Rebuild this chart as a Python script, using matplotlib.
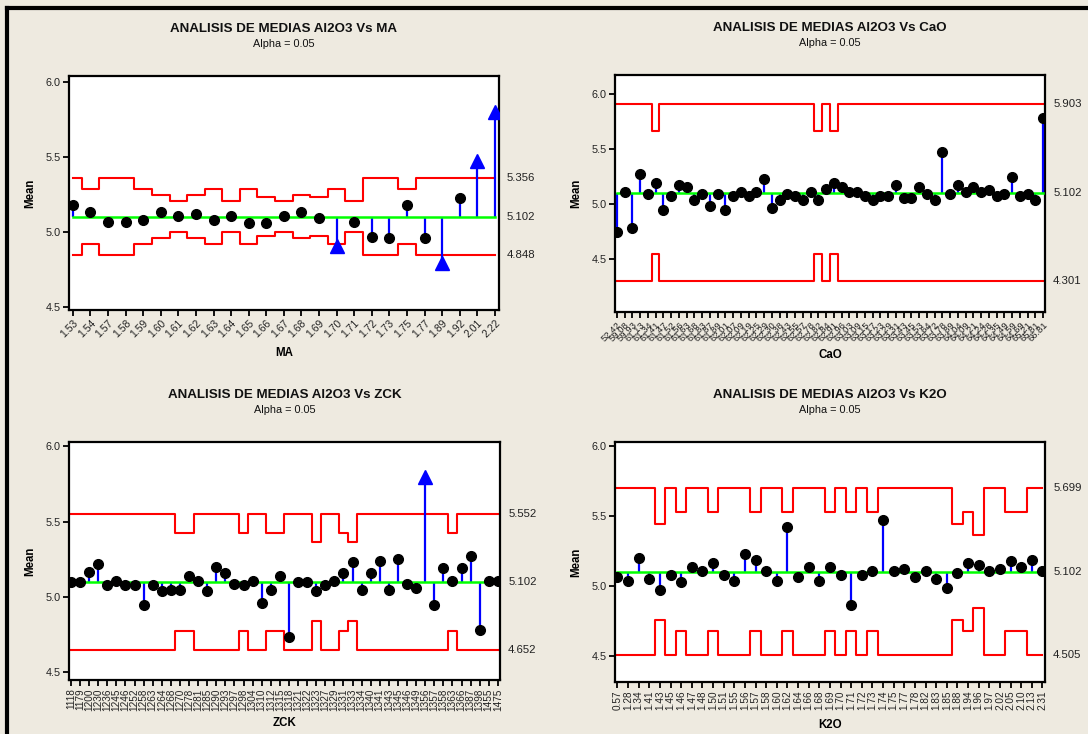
import matplotlib
matplotlib.use('Agg')
import matplotlib.pyplot as plt
import matplotlib.transforms as mtransforms
from matplotlib.lines import Line2D

plt.rcParams['font.family'] = ['Liberation Sans', 'DejaVu Sans']

center = 5.102

# MA
ma_labels = ['1.53', '1.54', '1.57', '1.58', '1.59', '1.60', '1.61', '1.62', '1.63', '1.64',
             '1.65', '1.66', '1.67', '1.68', '1.69', '1.70', '1.71', '1.72', '1.73', '1.75',
             '1.77', '1.89', '1.92', '2.01', '2.22']
ma_means = [5.181, 5.130, 5.068, 5.068, 5.081, 5.130, 5.106, 5.117, 5.081, 5.106,
            5.057, 5.057, 5.106, 5.130, 5.095, 4.905, 5.068, 4.968, 4.957, 5.181,
            4.957, 4.790, 5.224, 5.470, 5.800]
ma_ucl = [5.356, 5.283, 5.356, 5.356, 5.283, 5.245, 5.205, 5.245, 5.283, 5.205,
          5.283, 5.232, 5.205, 5.245, 5.232, 5.283, 5.205, 5.356, 5.356, 5.283,
          5.356, 5.356, 5.356, 5.356, 5.356]

# CaO
cao_labels = ['52.42', '59.08', '59.93', '61.13', '61.34', '61.41', '61.47', '61.52', '61.56', '61.63',
              '61.68', '61.83', '61.87', '61.89', '62.01', '62.07', '62.09', '62.19', '62.25', '62.29',
              '62.30', '62.38', '62.43', '62.55', '62.57', '62.78', '62.82', '62.84', '62.91', '62.96',
              '63.03', '63.09', '63.15', '63.17', '63.23', '63.29', '63.31', '63.43', '63.45', '63.53',
              '63.64', '63.72', '63.78', '63.89', '64.04', '64.09', '64.21', '64.24', '64.28', '64.35',
              '64.49', '64.59', '64.69', '65.21', '65.81', '66.81']
cao_means = [4.742, 5.106, 4.779, 5.276, 5.088, 5.194, 4.948, 5.070, 5.176, 5.158,
             5.036, 5.088, 4.985, 5.088, 4.948, 5.070, 5.106, 5.070, 5.106, 5.227,
             4.967, 5.036, 5.088, 5.070, 5.036, 5.106, 5.036, 5.139, 5.194, 5.158,
             5.106, 5.106, 5.070, 5.036, 5.070, 5.070, 5.176, 5.055, 5.055, 5.158,
             5.088, 5.036, 5.470, 5.088, 5.176, 5.106, 5.158, 5.106, 5.124, 5.070,
             5.088, 5.245, 5.070, 5.088, 5.036, 5.779]
cao_ucl = [5.903] * 56
cao_ucl[5] = 5.661
cao_ucl[26] = 5.661
cao_ucl[28] = 5.661

# ZCK
zck_labels = ['1118', '1179', '1200', '1230', '1236', '1245', '1246', '1252', '1258', '1263',
              '1264', '1268', '1270', '1278', '1281', '1285', '1290', '1293', '1297', '1298',
              '1304', '1310', '1312', '1315', '1318', '1321', '1322', '1323', '1327', '1329',
              '1331', '1333', '1334', '1340', '1341', '1343', '1345', '1346', '1349', '1356',
              '1357', '1358', '1363', '1366', '1387', '1398', '1455', '1475']
zck_means = [5.10, 5.10, 5.17, 5.22, 5.08, 5.11, 5.08, 5.08, 4.95, 5.08,
             5.04, 5.05, 5.05, 5.14, 5.11, 5.04, 5.20, 5.16, 5.09, 5.08,
             5.11, 4.96, 5.05, 5.14, 4.735, 5.10, 5.10, 5.04, 5.08, 5.11,
             5.16, 5.23, 5.05, 5.16, 5.24, 5.05, 5.25, 5.09, 5.06, 5.80,
             4.95, 5.19, 5.11, 5.19, 5.27, 4.785, 5.11, 5.11]
zck_ucl = [5.552] * 48
for i in [12, 13, 19, 22, 23, 30, 42]:
    zck_ucl[i] = 5.427
for i in [27, 31]:
    zck_ucl[i] = 5.363

# K2O
k2o_labels = ['0.57', '1.28', '1.34', '1.41', '1.43', '1.45', '1.46', '1.47', '1.48', '1.50',
              '1.51', '1.55', '1.56', '1.57', '1.58', '1.60', '1.62', '1.64', '1.66', '1.68',
              '1.69', '1.70', '1.71', '1.72', '1.73', '1.74', '1.75', '1.77', '1.78', '1.82',
              '1.83', '1.85', '1.88', '1.94', '1.96', '1.97', '2.02', '2.05', '2.10', '2.13', '2.31']
k2o_means = [5.062, 5.036, 5.200, 5.050, 4.967, 5.079, 5.024, 5.131, 5.105, 5.160,
             5.079, 5.036, 5.227, 5.186, 5.105, 5.036, 5.418, 5.064, 5.131, 5.036,
             5.131, 5.079, 4.859, 5.079, 5.105, 5.473, 5.105, 5.119, 5.064, 5.105,
             5.050, 4.983, 5.093, 5.160, 5.146, 5.105, 5.119, 5.174, 5.131, 5.186, 5.105]
k2o_ucl = [5.699, 5.699, 5.699, 5.699, 5.446, 5.699, 5.527, 5.699, 5.699, 5.527,
           5.699, 5.699, 5.699, 5.527, 5.699, 5.699, 5.527, 5.699, 5.699, 5.699,
           5.527, 5.699, 5.527, 5.699, 5.527, 5.699, 5.699, 5.699, 5.699, 5.699,
           5.699, 5.699, 5.446, 5.527, 5.363, 5.699, 5.699, 5.527, 5.527, 5.699, 5.699]


def anom(ax, labels, means, ucl, name, ylim, rot, lsize):
    n = len(means)
    x = list(range(n))
    lcl = [2 * center - u for u in ucl]

    ax.plot(x, ucl, drawstyle='steps-mid', color='red', lw=1.5, zorder=2)
    ax.plot(x, lcl, drawstyle='steps-mid', color='red', lw=1.5, zorder=2)
    ax.vlines(x, center, means, color='blue', lw=1.6, zorder=3)
    ax.plot([0, n - 1], [center, center], color='#00ff00', lw=1.8, zorder=4)

    out = [i for i in x if means[i] > ucl[i] or means[i] < lcl[i]]
    inn = [i for i in x if i not in out]
    ax.plot(inn, [means[i] for i in inn], 'o', color='black', ms=7, zorder=5)
    ax.plot(out, [means[i] for i in out], '^', color='blue', ms=10, zorder=5)

    ax.set_xlim(-0.22, n - 1 + 0.22)
    ax.set_ylim(*ylim)
    ax.set_yticks([4.5, 5.0, 5.5, 6.0])
    ax.set_yticklabels(['4.5', '5.0', '5.5', '6.0'], fontsize=7.8, color='#222222')
    ax.set_xticks(x)
    if rot == 90:
        ax.set_xticklabels(labels, rotation=90, fontsize=lsize, color='#222222')
    else:
        ax.set_xticklabels(labels, rotation=rot, ha='right', rotation_mode='anchor',
                           fontsize=lsize, color='#222222')
    ax.tick_params(direction='out', length=4, width=1.3, pad=2)
    for s in ax.spines.values():
        s.set_linewidth(1.6)

    ax.annotate('ANALISIS DE MEDIAS Al2O3 Vs ' + name, xy=(0.5, 1), xycoords='axes fraction',
                xytext=(0, 34), textcoords='offset points', ha='center', va='center',
                fontsize=9.6, fontweight='bold', color='#111111')
    ax.annotate('Alpha = 0.05', xy=(0.5, 1), xycoords='axes fraction',
                xytext=(0, 23), textcoords='offset points', ha='center', va='center',
                fontsize=7.8, color='#111111')
    ax.annotate('Mean', xy=(0, 0.5), xycoords='axes fraction', xytext=(-28, 0),
                textcoords='offset points', ha='center', va='center', rotation=90,
                fontsize=8.3, fontweight='bold')
    ax.annotate(name, xy=(0.5, 0), xycoords='axes fraction', xytext=(0, -31),
                textcoords='offset points', ha='center', va='center',
                fontsize=8.3, fontweight='bold')

    trans = mtransforms.blended_transform_factory(ax.transAxes, ax.transData)
    for v in [ucl[-1], center, lcl[-1]]:
        ax.annotate('%.3f' % v, xy=(1, v), xycoords=trans, xytext=(6, 0),
                    textcoords='offset points', ha='left', va='center',
                    fontsize=8.2, color='#222222')


fig = plt.figure(figsize=(10.88, 7.34), dpi=100)
fig.patch.set_facecolor('#eeeae0')

ax1 = fig.add_axes([0.0634, 0.5777, 0.395, 0.319])
ax2 = fig.add_axes([0.5653, 0.5749, 0.395, 0.3229])
ax3 = fig.add_axes([0.0634, 0.0736, 0.396, 0.3243])
ax4 = fig.add_axes([0.5653, 0.0708, 0.395, 0.3270])

anom(ax1, ma_labels, ma_means, ma_ucl, 'MA', (4.48, 6.04), 45, 7.5)
anom(ax2, cao_labels, cao_means, cao_ucl, 'CaO', (4.02, 6.17), 45, 6.8)
anom(ax3, zck_labels, zck_means, zck_ucl, 'ZCK', (4.45, 6.03), 90, 7.2)
anom(ax4, k2o_labels, k2o_means, k2o_ucl, 'K2O', (4.31, 6.03), 90, 7.2)

# outer frame (top and left edge)
fig.add_artist(Line2D([7 / 1088, 1], [1 - 8 / 734, 1 - 8 / 734], color='black', lw=3,
                      transform=fig.transFigure))
fig.add_artist(Line2D([7 / 1088, 7 / 1088], [0, 1 - 8 / 734], color='black', lw=3,
                      transform=fig.transFigure))

fig.savefig('out.png', dpi=100, facecolor=fig.get_facecolor())
